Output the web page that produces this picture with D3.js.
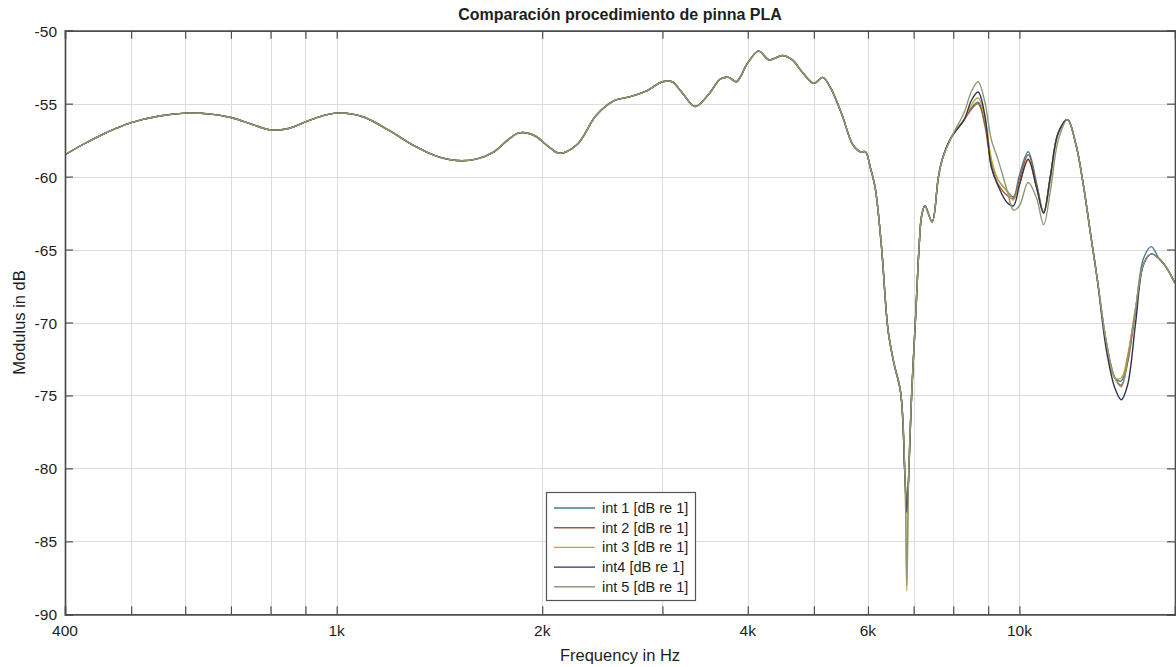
<!DOCTYPE html>
<html>
<head>
<meta charset="utf-8">
<script src="https://cdn.jsdelivr.net/npm/d3@7"></script>
<style>
  body { margin: 0; background: #fff; }
  svg text { font-family: "Liberation Sans", Arial, sans-serif; fill: #1e1e1e; }
</style>
</head>
<body>
<svg id="chart" width="1176" height="667"></svg>
<script>
// Frequency points (Hz) shared by all five measurements
const freqs = [400, 425, 450, 475, 500, 550, 600, 650, 700, 750, 800, 850, 900, 950, 1000, 1050, 1100, 1200, 1300, 1400, 1500, 1600, 1700, 1780, 1850, 1950, 2050, 2120, 2250, 2400, 2550, 2700, 2850, 3000, 3100, 3200, 3350, 3500, 3650, 3750, 3850, 4000, 4150, 4300, 4500, 4650, 4800, 5000, 5150, 5300, 5500, 5700, 5850, 5950, 6050, 6150, 6280, 6420, 6550, 6700, 6800, 6840, 6880, 6950, 7050, 7130, 7190, 7270, 7450, 7600, 7700, 7950, 8300, 8500, 8700, 8900, 9100, 9300, 9600, 9800, 10000, 10300, 10600, 10850, 11100, 11400, 11760, 12100, 12400, 12700, 13000, 13400, 13800, 14100, 14400, 14800, 15200, 15600, 16000, 16400, 16900];

// Magnitude (dB re 1) of each measurement
const int1 = [-58.5, -57.8, -57.2, -56.7, -56.3, -55.85, -55.65, -55.7, -55.95, -56.4, -56.8, -56.7, -56.25, -55.85, -55.65, -55.7, -55.95, -56.9, -57.9, -58.6, -58.9, -58.8, -58.3, -57.5, -57.0, -57.2, -58.0, -58.4, -57.8, -55.8, -54.8, -54.5, -54.1, -53.5, -53.5, -54.2, -55.2, -54.4, -53.3, -53.2, -53.5, -52.2, -51.4, -52.0, -51.7, -52.0, -52.8, -53.6, -53.2, -54.0, -55.8, -57.8, -58.3, -58.3, -59.4, -60.8, -64.8, -70.5, -72.8, -74.8, -80.8, -83.0, -80.8, -75.1, -69.4, -64.8, -62.7, -62.0, -63.1, -60.2, -58.9, -57.3, -56.1, -55.3, -54.9, -56.3, -59.0, -60.2, -61.0, -61.4, -59.9, -58.3, -60.5, -62.4, -60.0, -57.0, -56.1, -57.8, -60.5, -63.8, -67.0, -71.3, -73.8, -74.0, -72.5, -69.0, -65.6, -64.8, -65.6, -66.2, -67.3];
const int2 = [-58.5, -57.8, -57.2, -56.7, -56.3, -55.85, -55.65, -55.7, -55.95, -56.4, -56.8, -56.7, -56.25, -55.85, -55.65, -55.7, -55.95, -56.9, -57.9, -58.6, -58.9, -58.8, -58.3, -57.5, -57.0, -57.2, -58.0, -58.4, -57.8, -55.8, -54.8, -54.5, -54.1, -53.5, -53.5, -54.2, -55.2, -54.4, -53.3, -53.2, -53.5, -52.2, -51.4, -52.0, -51.7, -52.0, -52.8, -53.6, -53.2, -54.0, -55.8, -57.8, -58.3, -58.3, -59.4, -60.8, -64.8, -70.5, -72.8, -74.8, -80.8, -83.0, -80.8, -75.1, -69.4, -64.8, -62.7, -62.0, -63.1, -60.2, -58.9, -57.3, -56.1, -55.4, -55.0, -56.5, -59.3, -60.5, -61.3, -61.5, -60.2, -58.5, -60.6, -62.5, -60.0, -57.0, -56.1, -57.8, -60.5, -63.8, -67.0, -71.3, -73.8, -74.3, -72.8, -69.2, -66.0, -65.3, -65.6, -66.2, -67.3];
const int3 = [-58.5, -57.8, -57.2, -56.7, -56.3, -55.85, -55.65, -55.7, -55.95, -56.4, -56.8, -56.7, -56.25, -55.85, -55.65, -55.7, -55.95, -56.9, -57.9, -58.6, -58.9, -58.8, -58.3, -57.5, -57.0, -57.2, -58.0, -58.4, -57.8, -55.8, -54.8, -54.5, -54.1, -53.5, -53.5, -54.2, -55.2, -54.4, -53.3, -53.2, -53.5, -52.2, -51.4, -52.0, -51.7, -52.0, -52.8, -53.6, -53.2, -54.0, -55.8, -57.8, -58.3, -58.3, -59.4, -60.8, -64.8, -70.5, -72.8, -74.8, -80.8, -88.4, -80.8, -75.1, -69.4, -64.8, -62.7, -62.0, -63.1, -60.2, -58.9, -57.3, -56.1, -55.1, -54.6, -56.0, -58.8, -60.2, -61.0, -61.6, -60.5, -58.9, -60.8, -62.5, -60.3, -57.0, -56.1, -57.8, -60.5, -63.8, -67.0, -71.3, -73.8, -73.8, -72.3, -69.0, -66.0, -65.3, -65.6, -66.2, -67.3];
const int4 = [-58.5, -57.8, -57.2, -56.7, -56.3, -55.85, -55.65, -55.7, -55.95, -56.4, -56.8, -56.7, -56.25, -55.85, -55.65, -55.7, -55.95, -56.9, -57.9, -58.6, -58.9, -58.8, -58.3, -57.5, -57.0, -57.2, -58.0, -58.4, -57.8, -55.8, -54.8, -54.5, -54.1, -53.5, -53.5, -54.2, -55.2, -54.4, -53.3, -53.2, -53.5, -52.2, -51.4, -52.0, -51.7, -52.0, -52.8, -53.6, -53.2, -54.0, -55.8, -57.8, -58.3, -58.3, -59.4, -60.8, -64.8, -70.5, -72.8, -74.8, -80.8, -83.0, -80.8, -75.1, -69.4, -64.8, -62.7, -62.0, -63.1, -60.2, -58.9, -57.3, -56.1, -54.8, -54.2, -55.8, -59.4, -60.6, -61.8, -62.0, -60.6, -58.8, -60.8, -62.5, -60.0, -57.0, -56.1, -57.8, -60.5, -63.8, -67.0, -71.8, -74.5, -75.3, -74.3, -70.0, -66.0, -65.3, -65.6, -66.2, -67.3];
const int5 = [-58.5, -57.8, -57.2, -56.7, -56.3, -55.85, -55.65, -55.7, -55.95, -56.4, -56.8, -56.7, -56.25, -55.85, -55.65, -55.7, -55.95, -56.9, -57.9, -58.6, -58.9, -58.8, -58.3, -57.5, -57.0, -57.2, -58.0, -58.4, -57.8, -55.8, -54.8, -54.5, -54.1, -53.5, -53.5, -54.2, -55.2, -54.4, -53.3, -53.2, -53.5, -52.2, -51.4, -52.0, -51.7, -52.0, -52.8, -53.6, -53.2, -54.0, -55.8, -57.8, -58.3, -58.3, -59.4, -60.8, -64.8, -70.5, -72.8, -74.8, -80.8, -88.0, -80.8, -75.1, -69.4, -64.8, -62.7, -62.0, -63.1, -60.2, -58.9, -57.3, -55.6, -54.2, -53.5, -54.9, -57.5, -58.8, -61.0, -62.3, -62.0, -60.4, -61.5, -63.3, -61.0, -57.5, -56.1, -57.8, -60.5, -63.8, -67.0, -71.3, -73.8, -74.4, -72.5, -69.0, -66.0, -65.3, -65.6, -66.2, -67.3];

const seriesNames = ["int 1 [dB re 1]", "int 2 [dB re 1]", "int 3 [dB re 1]", "int4 [dB re 1]", "int 5 [dB re 1]"];
const seriesColors = ["#3f7d9c", "#a05a40", "#c9a42c", "#2f3350", "#8d9a78"];

// Axis ticks
const xTickValues = [400, 1000, 2000, 4000, 6000, 10000];
const xTickLabels = ["400", "1k", "2k", "4k", "6k", "10k"];
const xGridValues = [500, 600, 700, 800, 900, 1000, 2000, 3000, 4000, 5000, 6000, 7000, 8000, 9000, 10000];
const yTickValues = [-50, -55, -60, -65, -70, -75, -80, -85, -90];

const titleText = "Comparación procedimiento de pinna PLA";
const xLabelText = "Frequency in Hz";
const yLabelText = "Modulus in dB";

const svg = d3.select("#chart");
const plot = { left: 65, right: 1175, top: 30.7, bottom: 614.3 };

const x = d3.scaleLog().domain([400, 16900]).range([plot.left, plot.right]);
const y = d3.scaleLinear().domain([-90, -50]).range([plot.bottom, plot.top]);

// Grid
const grid = svg.append("g").attr("stroke", "#dcdcdc").attr("stroke-width", 1);
grid.selectAll("line.vx").data(xGridValues).join("line")
  .attr("x1", d => Math.round(x(d)) + 0.5).attr("x2", d => Math.round(x(d)) + 0.5)
  .attr("y1", plot.top).attr("y2", plot.bottom);
grid.selectAll("line.hy").data(yTickValues.slice(1, -1)).join("line")
  .attr("y1", d => Math.round(y(d)) + 0.5).attr("y2", d => Math.round(y(d)) + 0.5)
  .attr("x1", plot.left).attr("x2", plot.right);

// Curves
const seriesValues = [int1, int2, int3, int4, int5];
const line = d3.line()
  .x(d => x(d[0]))
  .y(d => y(d[1]))
  .curve(d3.curveCatmullRom.alpha(0.5));

svg.append("clipPath").attr("id", "plotClip").append("rect")
  .attr("x", plot.left).attr("y", plot.top)
  .attr("width", plot.right - plot.left).attr("height", plot.bottom - plot.top);

const curves = svg.append("g").attr("clip-path", "url(#plotClip)");
seriesValues.forEach((vals, i) => {
  curves.append("path")
    .datum(freqs.map((f, k) => [f, vals[k]]))
    .attr("fill", "none")
    .attr("stroke", seriesColors[i])
    .attr("stroke-width", 1.4)
    .attr("d", line);
});

// Axes (ticks pointing inward on all four sides)
const tickLen = 8;
const axisColor = "#4d4d4d";
const xBottom = d3.axisBottom(x).tickValues(xGridValues).tickSize(-tickLen).tickFormat("");
const xTop = d3.axisTop(x).tickValues(xGridValues).tickSize(-tickLen).tickFormat("");
const yLeft = d3.axisLeft(y).tickValues(yTickValues).tickSize(-tickLen).tickFormat("");
const yRight = d3.axisRight(y).tickValues(yTickValues).tickSize(-tickLen).tickFormat("");

function styleAxis(g) {
  g.selectAll("path.domain").attr("stroke", axisColor).attr("stroke-width", 1.7);
  g.selectAll(".tick line").attr("stroke", axisColor).attr("stroke-width", 1.2);
}
svg.append("g").attr("transform", `translate(0,${plot.bottom})`).call(xBottom).call(styleAxis);
svg.append("g").attr("transform", `translate(0,${plot.top})`).call(xTop).call(styleAxis);
svg.append("g").attr("transform", `translate(${plot.left},0)`).call(yLeft).call(styleAxis);
svg.append("g").attr("transform", `translate(${plot.right},0)`).call(yRight).call(styleAxis);

// Tick labels
svg.append("g").selectAll("text").data(xTickValues).join("text")
  .attr("x", d => x(d)).attr("y", plot.bottom + 22)
  .attr("text-anchor", "middle").attr("font-size", 15.5)
  .text((d, i) => xTickLabels[i]);
svg.append("g").selectAll("text").data(yTickValues).join("text")
  .attr("x", plot.left - 8).attr("y", d => y(d) + 6)
  .attr("text-anchor", "end").attr("font-size", 15.5)
  .text(d => d);

// Titles
svg.append("text").attr("x", (plot.left + plot.right) / 2).attr("y", 20)
  .attr("text-anchor", "middle").attr("font-size", 16).attr("font-weight", "bold")
  .text(titleText);
svg.append("text").attr("x", (plot.left + plot.right) / 2).attr("y", 661)
  .attr("text-anchor", "middle").attr("font-size", 16.5)
  .text(xLabelText);
svg.append("text").attr("transform", `translate(25,${(plot.top + plot.bottom) / 2}) rotate(-90)`)
  .attr("text-anchor", "middle").attr("font-size", 16.5)
  .text(yLabelText);

// Legend
const legend = svg.append("g").attr("transform", "translate(546,492)");
legend.append("rect").attr("x", 0.5).attr("y", 0.5).attr("width", 149).attr("height", 108)
  .attr("fill", "#fff").attr("stroke", "#555").attr("stroke-width", 1.2);
seriesNames.forEach((name, i) => {
  const ly = 16 + i * 19.7;
  legend.append("line").attr("x1", 8).attr("x2", 49).attr("y1", ly).attr("y2", ly)
    .attr("stroke", seriesColors[i]).attr("stroke-width", 1.4);
  legend.append("text").attr("x", 56).attr("y", ly + 5).attr("font-size", 14.5).text(name);
});
</script>
</body>
</html>
